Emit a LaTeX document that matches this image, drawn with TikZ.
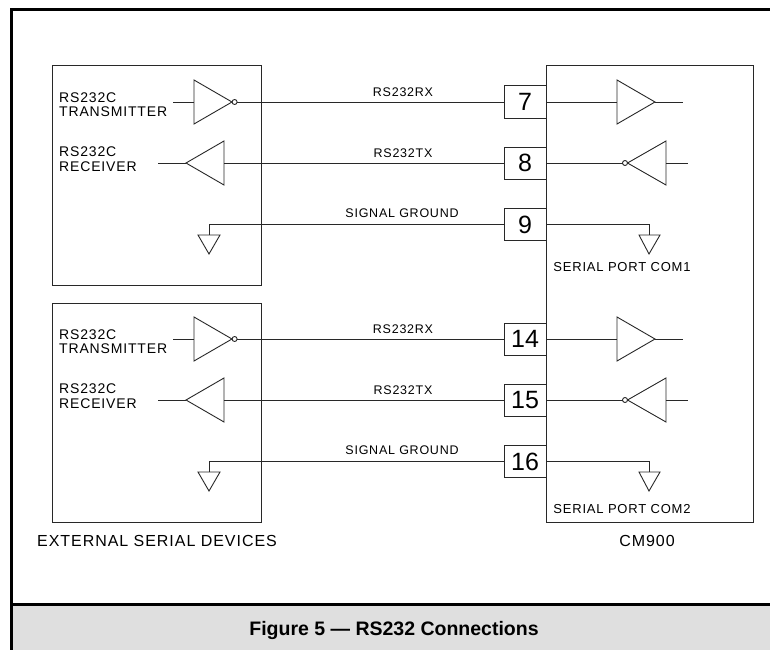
\documentclass[tikz,border=0pt]{standalone}
\usepackage{fontspec}
\setmainfont{Liberation Sans}
\newfontfamily\cadfont[LetterSpace=6]{Liberation Sans}
\definecolor{capgray}{RGB}{223,223,223}
\definecolor{ink}{RGB}{40,40,40}
\tikzset{
  wire/.style={draw=ink, line width=0.9pt},
  boxline/.style={draw=ink, line width=1pt},
  pinbox/.style={draw=ink, line width=1pt, minimum width=42pt, minimum height=32pt, inner sep=0pt, font=\fontsize{25}{25}\selectfont},
  lbl/.style={inner sep=0pt, font=\cadfont\fontsize{12.5}{13}\selectfont},
  dev/.style={inner sep=0pt, anchor=west, font=\cadfont\fontsize{14}{15}\selectfont},
  title/.style={inner sep=0pt, font=\cadfont\fontsize{16}{17}\selectfont},
  frame/.style={draw=black, line width=2.5pt},
}
\begin{document}
\begin{tikzpicture}[x=1pt,y=-1pt]
\useasboundingbox (0,0) rectangle (770,650);
% caption band
\fill[capgray] (12,605) rectangle (770,650);
\draw[frame] (770,9.5) -- (11.5,9.5) -- (11.5,650);
\draw[frame] (11.5,604.5) -- (770,604.5);
\node[inner sep=0pt, font=\bfseries\fontsize{19.5}{20}\selectfont] (cap) at (394,630) {Figure 5 — RS232 Connections};

% device boxes
\draw[boxline] (52,66) rectangle (261,285);
\draw[boxline] (52,303) rectangle (261,522);
\draw[boxline] (546,66) rectangle (753,522);

\node[title] (ext) at (157,541) {EXTERNAL SERIAL DEVICES};
\node[title] (cm) at (647,541) {CM900};
\node[lbl, font=\cadfont\fontsize{13}{14}\selectfont] (com1) at (622,267) {SERIAL PORT COM1};
\node[lbl, font=\cadfont\fontsize{13}{14}\selectfont] (com2) at (622,509) {SERIAL PORT COM2};

\foreach \dy/\pa/\pb/\pc/\sfx in {0/7/8/9/a, 237/14/15/16/b}{
\begin{scope}[shift={(0,\dy)}]
  % labels in device box
  \node[dev] (txa\sfx) at (59,98) {RS232C};
  \node[dev] (txb\sfx) at (59,112) {TRANSMITTER};
  \node[dev] (rxa\sfx) at (59,152) {RS232C};
  \node[dev] (rxb\sfx) at (59,167) {RECEIVER};
  % pins
  \node[pinbox] (p\pa) at (525,102) {\pa};
  \node[pinbox] (p\pb) at (525,163) {\pb};
  \node[pinbox] (p\pc) at (525,224.5) {\pc};
  % line labels
  \node[lbl] (l1\sfx) at (403,92) {RS232RX};
  \node[lbl] (l2\sfx) at (403,153) {RS232TX};
  \node[lbl] (l3\sfx) at (402,213.5) {SIGNAL GROUND};
  % left transmitter (inverting)
  \coordinate (tin\sfx) at (173,102);
  \draw[wire] (tin\sfx) -- (194,102);
  \draw[wire] (194,80) -- (194,124) -- (232,102) -- cycle;
  \draw[wire] (234.6,102) circle (2.5pt);
  \draw[wire] (237.1,102) -- (p\pa.west);
  % left receiver
  \coordinate (rout\sfx) at (158,163);
  \draw[wire] (rout\sfx) -- (186,163);
  \draw[wire] (186,163) -- (224,141) -- (224,185) -- cycle;
  \draw[wire] (224,163) -- (p\pb.west);
  % left ground
  \draw[wire] (p\pc.west) -- (209,224.5) -- (209,235);
  \draw[wire] (198,235) -- (220,235) -- (209,254) -- cycle;
  % right receiver buffer
  \coordinate (rbo\sfx) at (683,102);
  \draw[wire] (p\pa.east) -- (617,102);
  \draw[wire] (617,80) -- (617,124) -- (655,102) -- cycle;
  \draw[wire] (655,102) -- (rbo\sfx);
  % right inverting driver
  \coordinate (rdi\sfx) at (688,163);
  \draw[wire] (p\pb.east) -- (622.5,163);
  \draw[wire] (625,163) circle (2.5pt);
  \draw[wire] (627.5,163) -- (666,141) -- (666,185) -- cycle;
  \draw[wire] (666,163) -- (rdi\sfx);
  % right ground
  \draw[wire] (p\pc.east) -- (649,224.5) -- (649,235);
  \draw[wire] (639,235) -- (660,235) -- (649,254) -- cycle;
\end{scope}
}
\end{tikzpicture}
\end{document}
